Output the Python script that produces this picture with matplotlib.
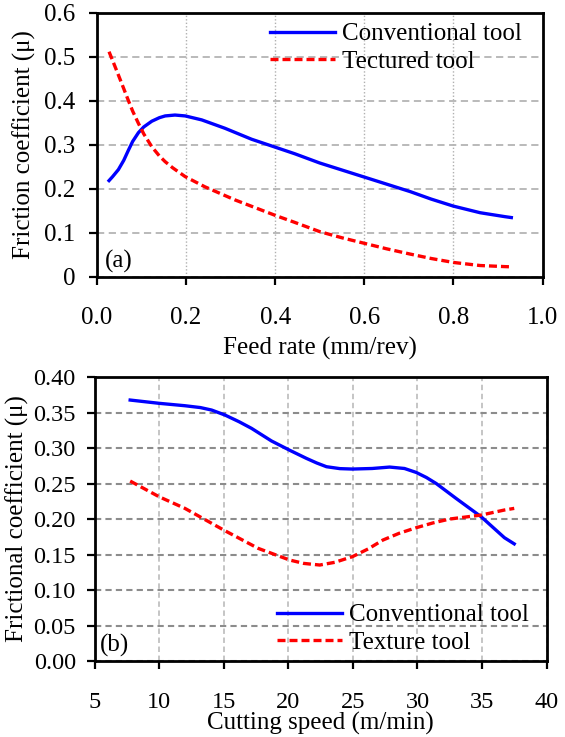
import matplotlib
matplotlib.use("Agg")
import matplotlib.pyplot as plt

plt.rcParams['font.family'] = ['Liberation Serif', 'DejaVu Serif']
plt.rcParams['font.size'] = 18

# (a) friction coefficient vs feed rate
feed = [0.027, 0.035, 0.048, 0.060, 0.070, 0.080, 0.093, 0.105, 0.123, 0.140,
        0.153, 0.175, 0.198, 0.235, 0.287, 0.347, 0.40, 0.444, 0.50, 0.55,
        0.60, 0.65, 0.703, 0.75, 0.80, 0.86, 0.916, 0.93]
conv_a = [0.219, 0.228, 0.244, 0.265, 0.287, 0.308, 0.328, 0.341, 0.354, 0.362,
          0.366, 0.368, 0.366, 0.357, 0.338, 0.313, 0.295, 0.280, 0.259, 0.243,
          0.227, 0.211, 0.194, 0.177, 0.161, 0.146, 0.137, 0.135]
feed_t = [0.027, 0.035, 0.048, 0.060, 0.070, 0.080, 0.093, 0.105, 0.123, 0.140,
          0.153, 0.170, 0.198, 0.242, 0.31, 0.40, 0.444, 0.50, 0.55, 0.60, 0.65,
          0.703, 0.75, 0.80, 0.86, 0.916, 0.93]
text_a = [0.512, 0.492, 0.459, 0.428, 0.402, 0.377, 0.349, 0.325, 0.296, 0.275,
          0.262, 0.248, 0.228, 0.205, 0.175, 0.140, 0.124, 0.103, 0.089, 0.0765,
          0.064, 0.052, 0.042, 0.033, 0.026, 0.0235, 0.023]

# (b) frictional coefficient vs cutting speed
speed = [7.76, 10.0, 12.0, 13.2, 14.07, 15.1, 16.2, 17.16, 18.7, 20.1, 21.4,
         22.2, 22.96, 24.0, 24.97, 26.5, 27.85, 29.0, 29.9, 30.7, 31.46, 33.0,
         34.94, 36.74, 37.5]
conv_b = [0.3676, 0.363, 0.3596, 0.357, 0.3535, 0.3465, 0.337, 0.3277, 0.310,
          0.297, 0.2855, 0.279, 0.2737, 0.271, 0.2704, 0.2712, 0.2732, 0.2712,
          0.2657, 0.2585, 0.250, 0.229, 0.2032, 0.1737, 0.165]
speed_t = [7.76, 10.0, 12.0, 15.0, 17.67, 20.1, 21.2, 22.44, 23.6, 24.97, 26.2,
           27.33, 28.6, 29.9, 31.2, 32.5, 34.94, 36.74, 37.5]
text_b = [0.2535, 0.2314, 0.215, 0.1845, 0.1587, 0.1423, 0.1375, 0.1352, 0.139,
          0.147, 0.158, 0.1704, 0.180, 0.1877, 0.1945, 0.200, 0.2056, 0.2127,
          0.215]

dash = (0, (2.4, 1.2))

fig = plt.figure(figsize=(5.65, 7.37), dpi=100)

ax1 = fig.add_axes([0.1717, 0.6242, 0.7885, 0.3582])
ax1.plot(feed, conv_a, color='#0000ff', lw=2.4, label='Conventional tool')
ax1.plot(feed_t, text_a, color='#ff0000', lw=2.4, ls=dash, label='Tectured tool')
ax1.set_xlim(0, 1.0)
ax1.set_ylim(0, 0.6)
ax1.set_xticks([0.0, 0.2, 0.4, 0.6, 0.8, 1.0])
ax1.set_xticklabels(['0.0', '0.2', '0.4', '0.6', '0.8', '1.0'])
ax1.set_yticks([0, 0.1, 0.2, 0.3, 0.4, 0.5, 0.6])
ax1.set_yticklabels(['0', '0.1', '0.2', '0.3', '0.4', '0.5', '0.6'])
ax1.yaxis.grid(True, color='#b4b4b4', ls=(0, (4, 2.5)), lw=1.3)
ax1.xaxis.grid(True, color='#b0b0b0', ls=(0, (1, 1.5)), lw=1.0)
ax1.set_axisbelow(True)
ax1.tick_params(axis='x', direction='out', length=5.5, width=1.6, pad=16)
ax1.tick_params(axis='y', direction='out', length=5.5, width=1.6, pad=10)
ax1.set_xlabel('Feed rate (mm/rev)', labelpad=6)
ax1.set_ylabel('Friction coefficient (μ)')
ax1.yaxis.set_label_coords(-0.137, 0.5)
ax1.text(0.018, 0.015, '(a)', transform=ax1.transAxes, ha='left', va='bottom')
ax1.legend(loc='upper right', frameon=False, handlelength=2.6, handletextpad=0.28,
           borderaxespad=0.0, labelspacing=0.2, bbox_to_anchor=(0.976, 1.0))
for s in ax1.spines.values():
    s.set_linewidth(2.0)

ax2 = fig.add_axes([0.1673, 0.1031, 0.80, 0.3853])
ax2.plot(speed, conv_b, color='#0000ff', lw=2.4, label='Conventional tool')
ax2.plot(speed_t, text_b, color='#ff0000', lw=2.4, ls=dash, label='Texture tool')
ax2.set_xlim(5, 40)
ax2.set_ylim(0, 0.40)
ax2.set_xticks([5, 10, 15, 20, 25, 30, 35, 40])
yt_b = [0.0, 0.05, 0.10, 0.15, 0.20, 0.25, 0.30, 0.35, 0.40]
ax2.set_yticks(yt_b)
ax2.set_yticklabels(['%.2f' % v for v in yt_b])
ax2.yaxis.grid(True, color='#8c8c8c', ls=(0, (3, 2)), lw=1.5)
ax2.xaxis.grid(True, color='#c0c0c0', ls=(0, (3, 2)), lw=1.3)
ax2.set_axisbelow(True)
ax2.tick_params(axis='both', labelsize=17.5)
ax2.tick_params(axis='x', direction='out', length=5.5, width=1.6, pad=17)
ax2.tick_params(axis='y', direction='out', length=5.5, width=1.6, pad=8)
ax2.set_xlabel('Cutting speed (m/min)', labelpad=-1)
ax2.set_ylabel('Frictional coefficient (μ)')
ax2.yaxis.set_label_coords(-0.145, 0.5)
ax2.text(0.012, 0.014, '(b)', transform=ax2.transAxes, ha='left', va='bottom')
ax2.legend(loc='lower right', frameon=False, handlelength=2.6, handletextpad=0.28,
           borderaxespad=0.0, labelspacing=0.2, bbox_to_anchor=(0.983, -0.01))
for s in ax2.spines.values():
    s.set_linewidth(2.0)

fig.savefig('out.png', dpi=100)
